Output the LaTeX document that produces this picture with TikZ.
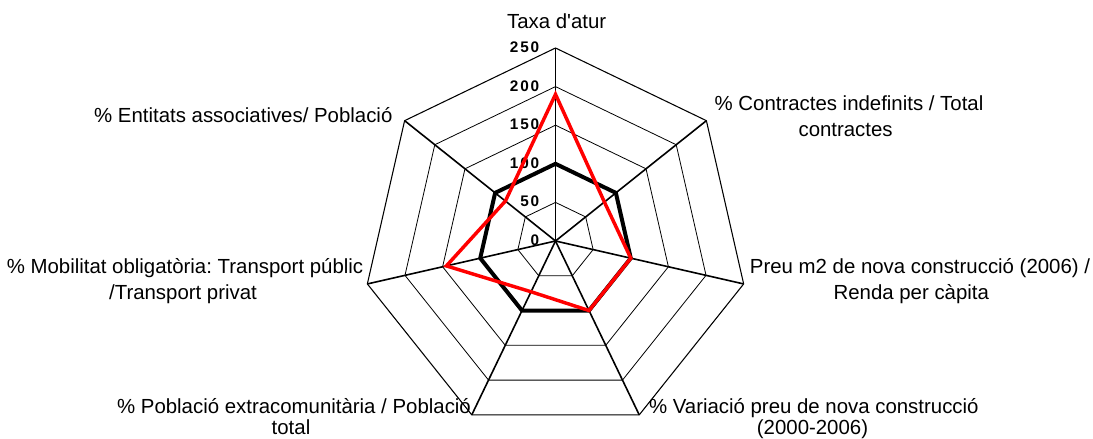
\documentclass[tikz,border=0pt]{standalone}
\usepackage{fontspec}
\newfontfamily\labfont{Liberation Sans}
\usetikzlibrary{calc}
\newcommand\tsp{\kern0.12em}
\frenchspacing
\begin{document}
\begin{tikzpicture}[x=0.75pt,y=0.75pt,
  ring/.style={line width=0.6pt,black},
  outerring/.style={line width=0.8pt,black},
  axisline/.style={line width=1.2pt,black},
  blackser/.style={line width=3pt,black,line join=miter},
  redser/.style={line width=2.6pt,red,line join=miter},
  lab/.style={font=\labfont\fontsize{15.3}{18}\selectfont\frenchspacing,inner sep=0pt,anchor=base},
  tick/.style={font=\labfont\fontsize{11.5}{13}\selectfont\bfseries,inner sep=0pt,anchor=east}]
\useasboundingbox (0,0) rectangle (1093,439);
\coordinate (c) at (555.5,198);
% outer vertices
\foreach \k in {0,...,6}{
  \coordinate (o\k) at ($(c)+({90-\k*360/7}:193)$);
}
% inner rings
\foreach \i in {1,...,4}{
  \foreach \k in {0,...,6}{
    \coordinate (g\i\k) at ($(c)+({90-\k*360/7}:{\i*38.6})$);
  }
  \draw[ring] (g\i0)--(g\i1)--(g\i2)--(g\i3)--(g\i4)--(g\i5)--(g\i6)--cycle;
}
\draw[outerring] (o0)--(o1)--(o2)--(o3)--(o4)--(o5)--(o6)--cycle;
% axes
\foreach \k in {0,...,6}{
  \draw[axisline] (c) -- (o\k);
}
% tick labels
\foreach \v/\t in {0/0,50/5\tsp0,100/1\tsp0\tsp0,150/1\tsp5\tsp0,200/2\tsp0\tsp0,250/2\tsp5\tsp0}{
  \node[tick] (t\v) at ($(c)+(-16,{\v*0.772+0.7})$) {\t};
}
% black series (all 100)
\foreach \k in {0,...,6}{
  \coordinate (b\k) at ($(c)+({90-\k*360/7}:77.2)$);
}
\draw[blackser] (b0)--(b1)--(b2)--(b3)--(b4)--(b5)--(b6)--cycle;
% red series
\foreach \k/\v in {0/190,1/81,2/100,3/100,4/73,5/145,6/83}{
  \coordinate (r\k) at ($(c)+({90-\k*360/7}:{\v*0.772})$);
}
\draw[redser] (r0)--(r1)--(r2)--(r3)--(r4)--(r5)--(r6)--cycle;
% axis labels
\node[lab] (l0) at (556.7,410.7) {Taxa d'atur};
\node[lab] (l1a) at (849,328) {\% Contractes indefinits / Total};
\node[lab] (l1b) at (845.6,302) {contractes};
\node[lab] (l2a) at (920,165) {Preu m2 de nova construcció (2006) /};
\node[lab] (l2b) at (911.3,139.5) {Renda per càpita};
\node[lab] (l3a) at (813.8,25) {\% Variació preu de nova construcció};
\node[lab] (l3b) at (812.5,4.5) {(2000-2006)};
\node[lab] (l4a) at (294,25) {\% Població extracomunitària / Població};
\node[lab] (l4b) at (291,4.5) {total};
\node[lab] (l5a) at (185,165) {\% Mobilitat obligatòria: Transport públic};
\node[lab] (l5b) at (183,139.5) {/Transport privat};
\node[lab] (l6) at (243.3,316) {\% Entitats associatives/ Població};
\end{tikzpicture}
\end{document}
